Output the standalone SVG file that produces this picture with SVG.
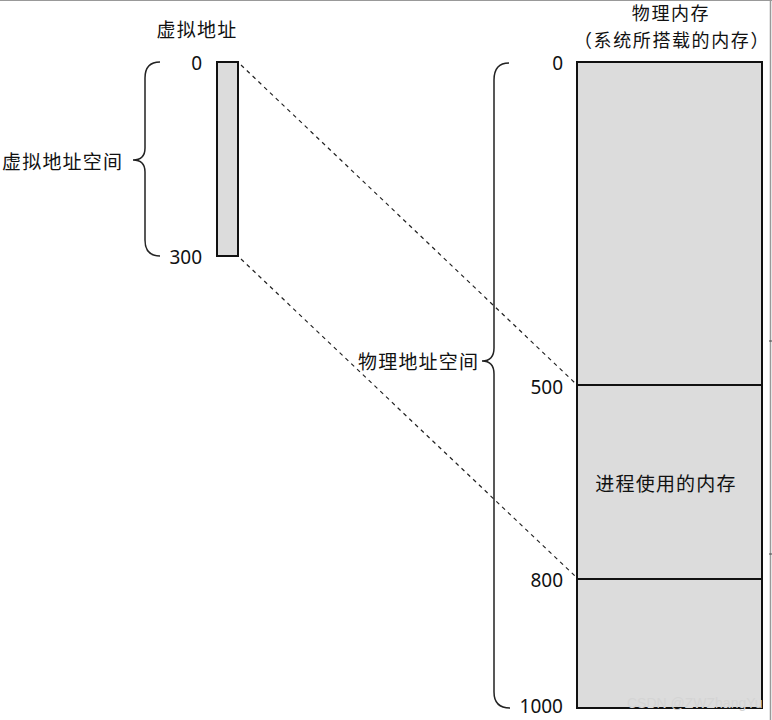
<svg xmlns="http://www.w3.org/2000/svg" width="772" height="720" viewBox="0 0 772 720">
<style>
  text { font-family: "Noto Sans CJK SC", "Noto Sans", sans-serif; font-size: 19px; letter-spacing: 1.2px; fill: #111; dominant-baseline: central; }
  .num { font-family: "Noto Sans", "Open Sans", sans-serif; font-size: 19px; letter-spacing: 0; text-anchor: end; }
  .title { font-size: 18px; letter-spacing: 1.6px; text-anchor: middle; }
  .mem { fill: #dcdcdc; stroke: #111; stroke-width: 2; }
  .div { stroke: #111; stroke-width: 2; }
  .brace { fill: none; stroke: #222; stroke-width: 1.5; }
  .dash { stroke: #222; stroke-width: 1.2; stroke-dasharray: 4 4; fill: none; }
  .wm { font-family: "Liberation Sans", Arial, sans-serif; font-size: 14px; letter-spacing: 0; fill: #d4d4d4; }
</style>
<rect x="0" y="0" width="772" height="720" fill="#fff"/>
<line x1="0" y1="0.5" x2="772" y2="0.5" stroke="#999" stroke-width="1"/>
<line x1="770.5" y1="0" x2="770.5" y2="720" stroke="#999" stroke-width="1.5"/>
<line x1="769" y1="341" x2="772" y2="341" stroke="#444" stroke-width="1"/>
<line x1="769" y1="554" x2="772" y2="554" stroke="#444" stroke-width="1"/>

<g id="connectors">
  <path class="dash" d="M241,65 L575,383"/>
  <path class="dash" d="M241,259 L575,576"/>
</g>

<g id="virtual-memory">
  <text x="197" y="28" text-anchor="middle">虚拟地址</text>
  <rect class="mem" x="217" y="62" width="21" height="194"/>
  <text class="num" x="202" y="63">0</text>
  <text class="num" x="202" y="257">300</text>
</g>

<g id="virtual-space-brace">
  <path class="brace" d="M160,62 Q145,62 145,78 L145,148 Q145,160 133,160 Q145,160 145,172 L145,240 Q145,256 160,256"/>
  <text x="2" y="160">虚拟地址空间</text>
</g>

<g id="physical-memory">
  <text class="title" x="671" y="12">物理内存</text>
  <text class="title" x="672" y="39">（系统所搭载的内存）</text>
  <rect class="mem" x="577" y="62" width="185" height="646"/>
  <line class="div" x1="577" y1="385" x2="762" y2="385"/>
  <line class="div" x1="577" y1="579" x2="762" y2="579"/>
  <text x="666" y="482" text-anchor="middle">进程使用的内存</text>
  <text class="num" x="563" y="63">0</text>
  <text class="num" x="563" y="387">500</text>
  <text class="num" x="563" y="580">800</text>
  <text class="num" x="563" y="706">1000</text>
</g>

<g id="physical-space-brace">
  <path class="brace" d="M509,63 Q494,63 494,80 L494,348 Q494,361 482,361 Q494,361 494,374 L494,692 Q494,708 510,708"/>
  <text x="358" y="360">物理地址空间</text>
</g>

<text class="wm" x="627" y="703">CSDN @ZWZhangYu</text>
</svg>
